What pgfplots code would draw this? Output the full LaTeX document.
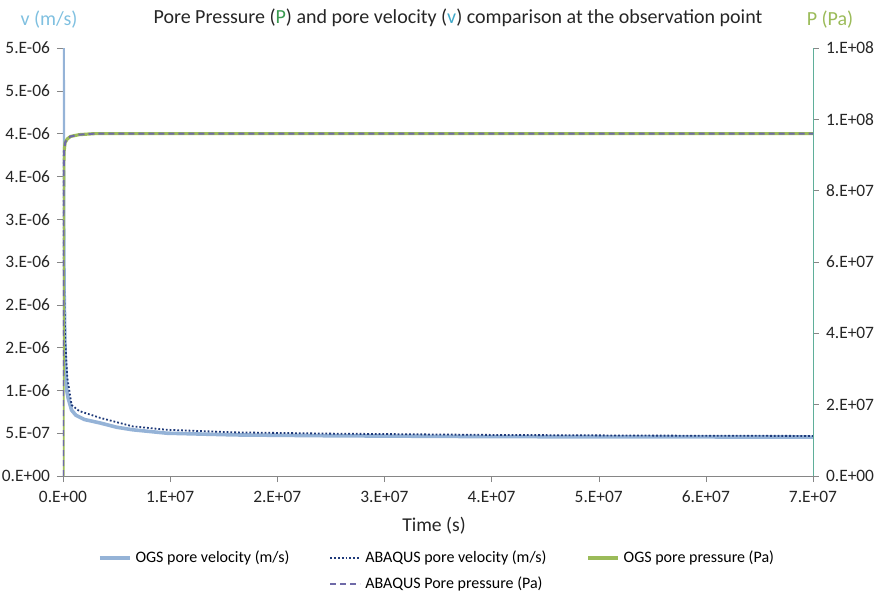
\documentclass[border=0pt]{standalone}
\usepackage{pgfplots}
\pgfplotsset{compat=1.18}
\usepackage{fontspec}
\setmainfont{Carlito}
\definecolor{ogsv}{HTML}{95B3D7}
\definecolor{abqv}{HTML}{1F3A7A}
\definecolor{ogsp}{HTML}{9BBB59}
\definecolor{abqp}{HTML}{6F6AA8}
\definecolor{laxis}{HTML}{868686}
\definecolor{raxis}{HTML}{5FAF9A}
\definecolor{vlab}{HTML}{7FC0E0}
\definecolor{ptitle}{HTML}{3A9A50}
\definecolor{vtitle}{HTML}{3FA9C9}
\begin{document}
\begin{tikzpicture}
\useasboundingbox (-31.5pt,-60pt) rectangle (408.5pt,238pt);
\begin{axis}[
  name=ax1, at={(0,0)}, anchor=south west,
  scale only axis, width=375pt, height=214pt,
  xmin=0, xmax=7e7, ymin=0, ymax=5e-6,
  axis x line*=bottom, axis y line*=left,
  axis line style={-, draw=laxis},
  tick style={draw=laxis}, tick align=outside, major tick length=3pt,
  xtick={0,1e7,2e7,3e7,4e7,5e7,6e7,7e7},
  xticklabels={0.E+00,1.E+07,2.E+07,3.E+07,4.E+07,5.E+07,6.E+07,7.E+07},
  ytick={0,5e-7,1e-6,1.5e-6,2e-6,2.5e-6,3e-6,3.5e-6,4e-6,4.5e-6,5e-6},
  yticklabels={0.E+00,5.E-07,1.E-06,2.E-06,2.E-06,3.E-06,3.E-06,4.E-06,4.E-06,5.E-06,5.E-06},
  scaled x ticks=false, scaled y ticks=false,
  tick label style={font=\fontsize{8.7}{10}\selectfont, text=black!85},
  xticklabel style={yshift=-1pt},
  clip=true,
]
\addplot[color=ogsv, line width=1.8pt] coordinates {
(0,5.0e-6) (2e4,4.6e-6) (5e4,3.2e-6) (1e5,2.2e-6) (2e5,1.4e-6) (3.5e5,1.0e-6)
(5e5,9.0e-7) (8e5,7.7e-7) (1.2e6,7.1e-7) (2e6,6.6e-7) (3.45e6,6.2e-7)
(5e6,5.7e-7) (6.5e6,5.4e-7) (9.7e6,5.0e-7) (1.6e7,4.8e-7) (2.5e7,4.7e-7)
(4e7,4.6e-7) (5.5e7,4.57e-7) (7e7,4.55e-7)};
\addplot[color=abqv, line width=0.9pt, densely dotted] coordinates {
(0,3.8e-6) (5e4,2.8e-6) (1e5,2.2e-6) (2e5,1.6e-6) (4e5,1.15e-6) (8e5,8.3e-7)
(1.5e6,7.6e-7) (3.45e6,6.8e-7) (6.5e6,5.8e-7) (9.7e6,5.4e-7) (1.6e7,5.1e-7)
(2.5e7,4.95e-7) (4e7,4.8e-7) (5.5e7,4.72e-7) (7e7,4.68e-7)};
\end{axis}
\begin{axis}[
  name=ax2, at={(0,0)}, anchor=south west,
  scale only axis, width=375pt, height=214pt,
  xmin=0, xmax=7e7, ymin=0, ymax=1.2e8,
  axis x line=none, axis y line*=right,
  axis line style={-, draw=raxis},
  tick style={draw=laxis}, tick align=outside, major tick length=3pt,
  ytick={0,2e7,4e7,6e7,8e7,1e8,1.2e8},
  yticklabels={0.E+00,2.E+07,4.E+07,6.E+07,8.E+07,1.E+08,1.E+08},
  scaled y ticks=false,
  tick label style={font=\fontsize{8.7}{10}\selectfont, text=black!85},
  legend style={at={(0.5,-0.155)}, anchor=north, draw=none, fill=none,
    font=\fontsize{8}{9}\selectfont, legend columns=3,
    /tikz/every even column/.append style={column sep=18pt},
    row sep=1.5pt, legend cell align=left},
  legend image code/.code={\draw[#1] (0pt,0pt) -- (15pt,0pt);},
]
\addlegendimage{color=ogsv, line width=1.8pt}
\addlegendentry{OGS pore velocity (m/s)}
\addlegendimage{color=abqv, line width=0.9pt, densely dotted}
\addlegendentry{ABAQUS pore velocity (m/s)}
\addplot[color=ogsp, line width=1.6pt] coordinates {
(0,0) (2e4,4e7) (4e4,7e7) (7e4,8.6e7) (1e5,9.1e7) (2e5,9.35e7) (4e5,9.45e7)
(7e5,9.52e7) (1.5e6,9.57e7) (3e6,9.6e7) (7e7,9.6e7)};
\addlegendentry{OGS pore pressure (Pa)}
\addlegendimage{empty legend}
\addlegendentry{}
\addplot[color=abqp, line width=1pt, dash pattern=on 3pt off 2pt] coordinates {
(0,0) (2e4,4e7) (4e4,7e7) (7e4,8.6e7) (1e5,9.1e7) (2e5,9.35e7) (4e5,9.45e7)
(7e5,9.52e7) (1.5e6,9.57e7) (3e6,9.6e7) (7e7,9.6e7)};
\addlegendentry{ABAQUS Pore pressure (Pa)}
\end{axis}
\node[font=\fontsize{10}{12}\selectfont, text=black!85] at (197.5pt,229pt)
  {Pore Pressure (\textcolor{ptitle}{P}) and pore velocity (\textcolor{vtitle}{v}) comparison at the observation point};
\node[font=\fontsize{10}{12}\selectfont, text=vlab] at (-7pt,228pt) {v (m/s)};
\node[font=\fontsize{10}{12}\selectfont, text=ogsp] at (383.5pt,228pt) {P (Pa)};
\node[font=\fontsize{9.8}{11}\selectfont, text=black!85] at (185.5pt,-25pt) {Time (s)};
\end{tikzpicture}
\end{document}
